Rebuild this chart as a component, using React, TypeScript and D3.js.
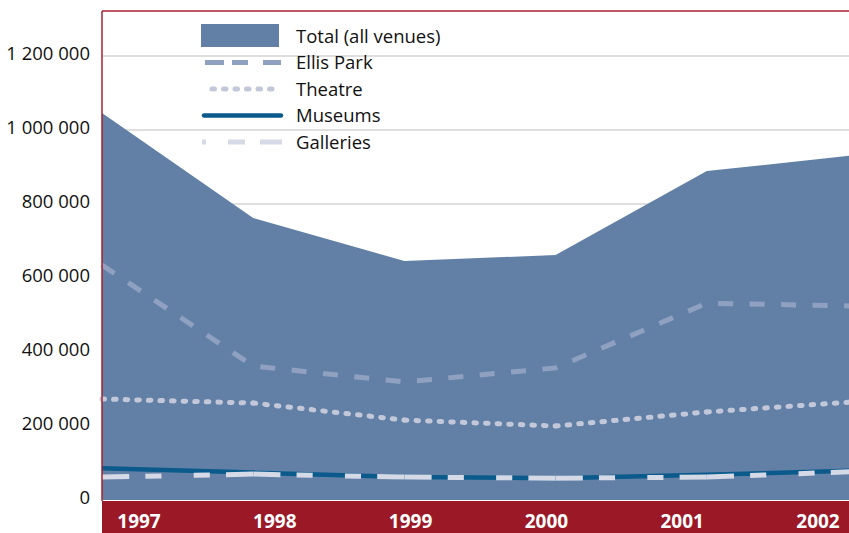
import { useRef, useEffect } from 'react';
import * as d3 from 'd3';

const years = [1997, 1998, 1999, 2000, 2001, 2002];
const total = [1046000, 762000, 646000, 662000, 889000, 933000];
const ellisPark = [635000, 362000, 319000, 357000, 532000, 524000];
const theatre = [273000, 262000, 216000, 200000, 238000, 266000];
const museums = [86000, 74000, 62000, 59000, 68000, 80000];
const galleries = [62000, 70000, 62000, 59000, 62000, 77000];
const yTicks = [0, 200000, 400000, 600000, 800000, 1000000, 1200000];
const legendNames = ['Total (all venues)', 'Ellis Park', 'Theatre', 'Museums', 'Galleries'];

const W = 849;
const H = 533;
const FONT = "'Open Sans', 'Noto Sans', sans-serif";

export default function App() {
  const svgRef = useRef<SVGSVGElement>(null);

  useEffect(() => {
    const svg = d3.select(svgRef.current);
    svg.selectAll('*').remove();

    const left = 102;
    const top = 11;
    const x = d3.scaleLinear().domain([1997, 2002]).range([left, 858]);
    const y = d3.scaleLinear().domain([0, 1200000]).range([500, 56]);
    const xLabel = d3.scalePoint<number>().domain(years).range([139, 818]);

    // gridlines (only show above the area)
    svg.append('g')
      .selectAll('line')
      .data(yTicks.slice(1))
      .join('line')
      .attr('x1', left)
      .attr('x2', W)
      .attr('y1', (d) => y(d))
      .attr('y2', (d) => y(d))
      .attr('stroke', '#d4d4d4')
      .attr('stroke-width', 1.5);

    // total area
    const area = d3.area<number>()
      .x((_, i) => x(years[i]))
      .y0(y(0))
      .y1((d) => y(d));
    svg.append('path').datum(total).attr('d', area).attr('fill', '#6280a6');

    const line = d3.line<number>()
      .x((_, i) => x(years[i]))
      .y((d) => y(d));
    const seg = d3.line<[number, number]>()
      .x((d) => x(d[0]))
      .y((d) => y(d[1]));

    // each year-to-year segment restarts its dash pattern
    const segments = (vals: number[], color: string, width: number, dash: string, cap: string) => {
      const g = svg.append('g');
      for (let i = 0; i < vals.length - 1; i++) {
        g.append('path')
          .attr('d', seg([[years[i], vals[i]], [years[i + 1], vals[i + 1]]]))
          .attr('pathLength', 150)
          .attr('fill', 'none')
          .attr('stroke', color)
          .attr('stroke-width', width)
          .attr('stroke-dasharray', dash)
          .attr('stroke-linecap', cap);
      }
    };

    svg.append('path')
      .datum(ellisPark)
      .attr('d', line)
      .attr('fill', 'none')
      .attr('stroke', '#8fa0c0')
      .attr('stroke-width', 5)
      .attr('stroke-dasharray', '15 16.5');

    segments(theatre, '#c2c8da', 5, '2.5 9', 'round');

    svg.append('path')
      .datum(museums)
      .attr('d', line)
      .attr('fill', 'none')
      .attr('stroke', '#0a5a8c')
      .attr('stroke-width', 4.5);

    segments(galleries, '#d6dae6', 5, '27 16 16 32 16 16 27 100', 'butt');

    // red frame + year band
    svg.append('rect')
      .attr('x', left)
      .attr('y', 501)
      .attr('width', W - left)
      .attr('height', H - 501)
      .attr('fill', '#9b1826');
    svg.append('line')
      .attr('x1', left).attr('x2', W).attr('y1', top).attr('y2', top)
      .attr('stroke', '#a8202e').attr('stroke-width', 1.5);
    svg.append('line')
      .attr('x1', left).attr('x2', left).attr('y1', top).attr('y2', 501)
      .attr('stroke', '#a8202e').attr('stroke-width', 1.5);

    svg.append('g')
      .selectAll('text')
      .data(years)
      .join('text')
      .attr('x', (d) => xLabel(d)!)
      .attr('y', 528)
      .attr('text-anchor', 'middle')
      .attr('fill', '#ffffff')
      .attr('font-family', FONT)
      .attr('font-weight', 700)
      .attr('font-size', '19px')
      .text((d) => String(d));

    // y axis labels
    svg.append('g')
      .selectAll('text')
      .data(yTicks)
      .join('text')
      .attr('x', 90)
      .attr('y', (d) => y(d) + 3.5)
      .attr('text-anchor', 'end')
      .attr('fill', '#111')
      .attr('font-family', FONT)
      .attr('font-size', '18.5px')
      .text((d) => d3.format(',')(d).replace(/,/g, ' '));

    // legend
    const legend = svg.append('g');
    const rowY = (i: number) => 36 + i * 26.5;
    legend.append('rect').attr('x', 201).attr('y', 24).attr('width', 78).attr('height', 23).attr('fill', '#6280a6');
    legend.append('line').attr('x1', 205).attr('x2', 281).attr('y1', rowY(1)).attr('y2', rowY(1))
      .attr('stroke', '#8fa0c0').attr('stroke-width', 5).attr('stroke-dasharray', '19 8 16 15');
    legend.append('line').attr('x1', 212).attr('x2', 281).attr('y1', rowY(2)).attr('y2', rowY(2))
      .attr('stroke', '#c2c8da').attr('stroke-width', 5).attr('stroke-linecap', 'round').attr('stroke-dasharray', '2.5 9');
    legend.append('line').attr('x1', 204).attr('x2', 281).attr('y1', rowY(3)).attr('y2', rowY(3))
      .attr('stroke', '#0a5a8c').attr('stroke-width', 4.5).attr('stroke-linecap', 'round');
    legend.append('line').attr('x1', 202).attr('x2', 282).attr('y1', rowY(4)).attr('y2', rowY(4))
      .attr('stroke', '#d6dae6').attr('stroke-width', 5).attr('stroke-dasharray', '4 22 17 15 22');
    legend.selectAll('text.lbl')
      .data(legendNames)
      .join('text')
      .attr('class', 'lbl')
      .attr('x', 296)
      .attr('y', (_, i) => rowY(i) + 6.5)
      .attr('fill', '#111')
      .attr('font-family', FONT)
      .attr('font-size', '18.5px')
      .text((d) => d);
  }, []);

  return (
    <svg
      ref={svgRef}
      width={W}
      height={H}
      viewBox={`0 0 ${W} ${H}`}
      style={{ position: 'absolute', left: 0, top: 0, display: 'block' }}
    />
  );
}
